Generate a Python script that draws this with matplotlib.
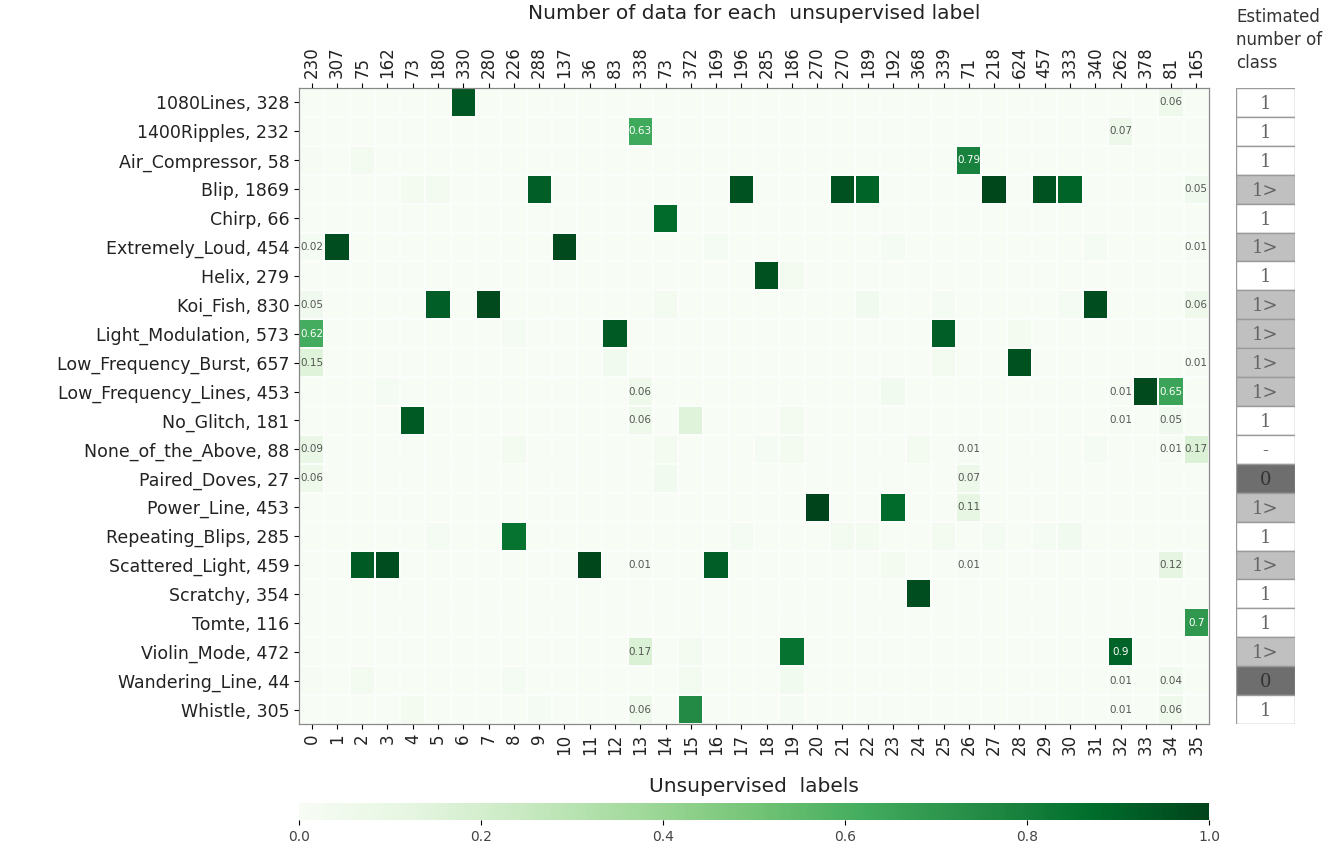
import matplotlib.pyplot as plt
import numpy as np
from matplotlib.patches import Rectangle

# true classes (rows) and sample counts
classes = ['1080Lines', '1400Ripples', 'Air_Compressor', 'Blip', 'Chirp', 'Extremely_Loud',
           'Helix', 'Koi_Fish', 'Light_Modulation', 'Low_Frequency_Burst', 'Low_Frequency_Lines',
           'No_Glitch', 'None_of_the_Above', 'Paired_Doves', 'Power_Line', 'Repeating_Blips',
           'Scattered_Light', 'Scratchy', 'Tomte', 'Violin_Mode', 'Wandering_Line', 'Whistle']
class_counts = [328, 232, 58, 1869, 66, 454, 279, 830, 573, 657, 453, 181, 88, 27, 453, 285,
                459, 354, 116, 472, 44, 305]

# unsupervised labels (columns) and their sizes
cluster_ids = list(range(36))
cluster_counts = [230, 307, 75, 162, 73, 180, 330, 280, 226, 288, 137, 36, 83, 338, 73, 372,
                  169, 196, 285, 186, 270, 270, 189, 192, 368, 339, 71, 218, 624, 457, 333, 340,
                  262, 378, 81, 165]

estimated = ['1', '1', '1', '1>', '1', '1>', '1', '1>', '1>', '1>', '1>', '1', '-', '0', '1>',
             '1', '1>', '1', '1', '1>', '0', '1']

# (row, col, fraction of the cluster)
cells = [
    (0, 6, 0.94), (0, 34, 0.06),
    (1, 13, 0.63), (1, 32, 0.07),
    (2, 0, 0.004), (2, 2, 0.03), (2, 26, 0.79),
    (3, 4, 0.03), (3, 5, 0.03), (3, 9, 0.92), (3, 17, 0.95), (3, 21, 0.96), (3, 22, 0.90),
    (3, 27, 0.99), (3, 29, 0.95), (3, 30, 0.90), (3, 35, 0.05),
    (4, 14, 0.88),
    (5, 0, 0.02), (5, 1, 0.97), (5, 10, 0.98), (5, 16, 0.02), (5, 23, 0.02), (5, 31, 0.02),
    (5, 35, 0.01),
    (6, 18, 0.96), (6, 19, 0.03),
    (7, 0, 0.05), (7, 5, 0.92), (7, 7, 0.98), (7, 14, 0.03), (7, 22, 0.04), (7, 25, 0.02),
    (7, 30, 0.02), (7, 31, 0.97), (7, 35, 0.06),
    (8, 0, 0.62), (8, 8, 0.02), (8, 12, 0.93), (8, 25, 0.92), (8, 28, 0.03),
    (9, 0, 0.15), (9, 12, 0.04), (9, 25, 0.03), (9, 28, 0.96), (9, 35, 0.01),
    (10, 3, 0.02), (10, 13, 0.06), (10, 23, 0.04), (10, 32, 0.01), (10, 33, 0.98), (10, 34, 0.65),
    (11, 4, 0.93), (11, 13, 0.06), (11, 15, 0.15), (11, 19, 0.03), (11, 32, 0.01), (11, 34, 0.05),
    (12, 0, 0.09), (12, 8, 0.03), (12, 14, 0.03), (12, 18, 0.02), (12, 19, 0.03), (12, 24, 0.03),
    (12, 26, 0.01), (12, 31, 0.02), (12, 34, 0.01), (12, 35, 0.17),
    (13, 0, 0.06), (13, 14, 0.04), (13, 26, 0.07),
    (14, 20, 1.00), (14, 23, 0.88), (14, 26, 0.11),
    (15, 5, 0.02), (15, 8, 0.85), (15, 17, 0.02), (15, 21, 0.03), (15, 22, 0.03), (15, 25, 0.03),
    (15, 27, 0.02), (15, 29, 0.02), (15, 30, 0.04),
    (16, 2, 0.93), (16, 3, 0.97), (16, 11, 0.99), (16, 13, 0.01), (16, 16, 0.92), (16, 23, 0.03),
    (16, 26, 0.01), (16, 34, 0.12),
    (17, 24, 0.97),
    (18, 35, 0.70),
    (19, 13, 0.17), (19, 15, 0.03), (19, 19, 0.85), (19, 32, 0.90),
    (20, 0, 0.004), (20, 2, 0.03), (20, 8, 0.02), (20, 15, 0.03), (20, 19, 0.04), (20, 32, 0.01),
    (20, 34, 0.04),
    (21, 4, 0.03), (21, 9, 0.02), (21, 13, 0.06), (21, 15, 0.75), (21, 19, 0.02), (21, 32, 0.01),
    (21, 34, 0.06),
]
annot_cols = [0, 13, 26, 32, 34, 35]

mat = np.zeros((len(classes), len(cluster_ids)))
for r, c, v in cells:
    mat[r, c] = v

fig = plt.figure(figsize=(13.29, 8.57), dpi=100)
ax = fig.add_axes([0.225, 0.1552, 0.6847, 0.7421])
mesh = ax.pcolormesh(mat, cmap='Greens', vmin=0, vmax=1, edgecolors='#fbfdfa', linewidth=0.15)
ax.set_xlim(0, 36)
ax.set_ylim(22, 0)

for r in range(mat.shape[0]):
    for c in annot_cols:
        v = mat[r, c]
        if round(v, 2) >= 0.01:
            txt = f'{v:.2f}'.rstrip('0') if v >= 0.5 else f'{v:.2f}'
            col = 'white' if v > 0.5 else '#444444'
            ax.text(c + 0.5, r + 0.5, txt, ha='center', va='center', fontsize=7.5, color=col,
                    alpha=0.9 if v <= 0.5 else 1)

ax.set_yticks(np.arange(22) + 0.5)
ax.set_yticklabels([f'{n}, {k}' for n, k in zip(classes, class_counts)], fontsize=12.5,
                   color='#222222')
ax.set_xticks(np.arange(36) + 0.5)
ax.set_xticklabels([str(i) for i in cluster_ids], rotation=90, fontsize=12, color='#222222')
ax.set_xlabel('Unsupervised  labels', fontsize=14.5, labelpad=16, color='#222222')
for s in ax.spines.values():
    s.set_color('#888888')

top = ax.twiny()
top.set_xlim(0, 36)
top.set_xticks(np.arange(36) + 0.5)
top.set_xticklabels([str(n) for n in cluster_counts], rotation=90, fontsize=12, color='#222222')
top.set_xlabel('Number of data for each  unsupervised label', fontsize=14.5, labelpad=20,
               color='#222222')
for s in top.spines.values():
    s.set_color('#888888')

# estimated number of class table
tab = fig.add_axes([0.930, 0.1552, 0.0444, 0.7421])
tab.set_xlim(0, 1)
tab.set_ylim(22, 0)
tab.axis('off')
fill = {'1': 'white', '-': 'white', '1>': '#c0c0c0', '0': '#6e6e6e'}
for i, e in enumerate(estimated):
    tab.add_patch(Rectangle((0, i), 1, 1, facecolor=fill[e], edgecolor='#9a9a9a', linewidth=1))
    tab.text(0.5, i + 0.55, e, ha='center', va='center', fontsize=13, family='DejaVu Serif',
             color='#333333' if e == '0' else '#666666')
fig.text(0.930, 0.916, 'Estimated\nnumber of\nclass', fontsize=12, ha='left', va='bottom',
         color='#333333', linespacing=1.35)

cax = fig.add_axes([0.225, 0.0432, 0.6847, 0.0198])
cb = fig.colorbar(mesh, cax=cax, orientation='horizontal')
cb.set_ticks([0, 0.2, 0.4, 0.6, 0.8, 1.0])
cb.ax.tick_params(labelsize=10, labelcolor='#444444')
cb.outline.set_visible(False)

plt.savefig('out.png', dpi=100)
